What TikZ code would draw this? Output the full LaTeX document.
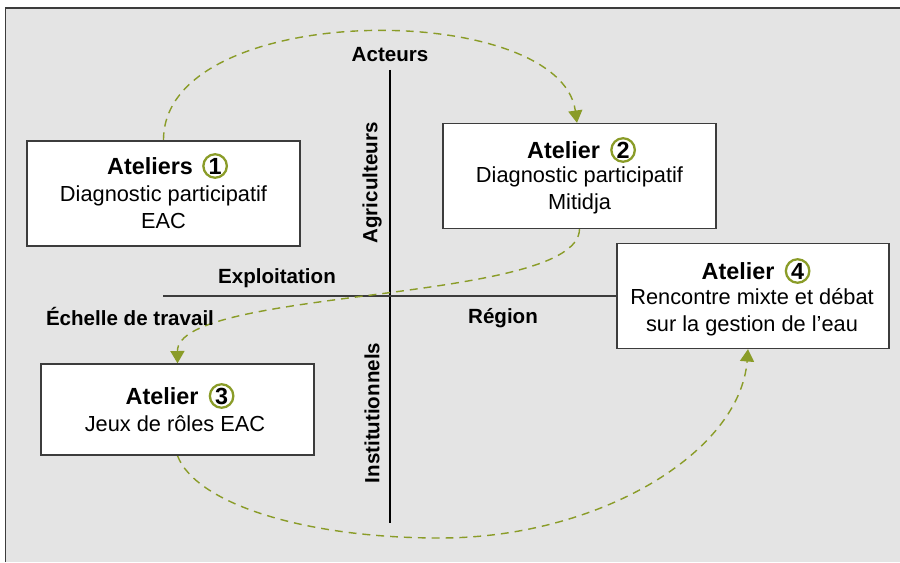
\documentclass[tikz,border=0pt]{standalone}
\usepackage{fontspec}
\setmainfont{Liberation Sans}
\usetikzlibrary{positioning,arrows.meta}
\definecolor{olivegreen}{RGB}{138,156,40}
\definecolor{panelgray}{RGB}{228,228,228}
\definecolor{framegray}{RGB}{60,60,60}
\pgfdeclarelayer{bglayer}
\pgfdeclarelayer{edgelayer}
\pgfdeclarelayer{nodelayer}
\pgfsetlayers{bglayer,edgelayer,nodelayer,main}
\tikzstyle{atelierbox}=[draw=framegray, fill=white, line width=0.8pt, minimum width=5.46cm, minimum height=2.1cm, inner sep=0pt]
\tikzstyle{title}=[font=\fontsize{13.3}{16}\selectfont\bfseries, inner sep=0pt]
\tikzstyle{body}=[font=\fontsize{12.4}{15.3}\selectfont, align=center, inner sep=0pt]
\tikzstyle{numcircle}=[circle, draw=olivegreen, line width=1.3pt, inner sep=0pt, minimum size=0.47cm, font=\fontsize{13.3}{16}\selectfont\bfseries]
\tikzstyle{axis}=[draw=black, line width=0.6pt]
\tikzstyle{axislabel}=[font=\fontsize{11.7}{14}\selectfont\bfseries, inner sep=0pt]
\tikzstyle{greenedge}=[draw=olivegreen, line width=0.8pt, dash pattern=on 4.5pt off 3.4pt, -{Triangle[length=7pt,width=8pt]}]

\begin{document}
\begin{tikzpicture}[x=0.02cm, y=0.02cm]
	\useasboundingbox (0,0) rectangle (900,562);
	\begin{pgfonlayer}{bglayer}
		\fill [panelgray] (5,0) rectangle (900,554);
		\draw [framegray, line width=1.1pt] (5.5,0) -- (5.5,554) -- (900,554);
	\end{pgfonlayer}
	\begin{pgfonlayer}{nodelayer}
		% ateliers
		\node [style=atelierbox] (b1) at (163.5,368.5) {};
		\node [style=title] (t1) at (150,396) {Ateliers};
		\node [style=numcircle, right=0.18cm of t1] (n1) {1};
		\node [style=body] (d1) at (163.5,354.5) {Diagnostic participatif\\EAC};
		\node [style=atelierbox] (b2) at (579.5,386) {};
		\node [style=title] (t2) at (563.5,412) {Atelier};
		\node [style=numcircle, right=0.2cm of t2] (n2) {2};
		\node [style=body] (d2) at (579.5,371.5) {Diagnostic participatif\\Mitidja};
		\node [style=atelierbox, minimum height=1.82cm] (b3) at (177.5,152.5) {};
		\node [style=title] (t3) at (162,166) {Atelier};
		\node [style=numcircle, right=0.2cm of t3] (n3) {3};
		\node [style=body] (d3) at (175,138) {Jeux de rôles EAC};
		\node [style=atelierbox, minimum width=5.44cm] (b4) at (753,266) {};
		\node [style=title] (t4) at (738,291) {Atelier};
		\node [style=numcircle, right=0.2cm of t4] (n4) {4};
		\node [style=body] (d4) at (752,250) {Rencontre mixte et débat\\sur la gestion de l’eau};
		% axes
		\node [style=axislabel] (acteurs) at (390,507) {Acteurs};
		\node [style=axislabel, rotate=90] (agri) at (372,379) {Agriculteurs};
		\node [style=axislabel, rotate=90] (inst) at (372,149) {Institutionnels};
		\node [style=axislabel] (expl) at (277,284) {Exploitation};
		\node [style=axislabel] (echelle) at (130,246) {Échelle de travail};
		\node [style=axislabel] (region) at (503,244) {Région};
		\coordinate (vtop) at (390,492);
		\coordinate (vbot) at (390,39);
		\coordinate (hleft) at (163,266);
		\coordinate (bot) at (440,24);
	\end{pgfonlayer}
	\begin{pgfonlayer}{edgelayer}
		\draw [style=axis] (vtop) to (vbot);
		\draw [style=axis, draw=framegray, line width=0.9pt] (hleft) to (b4.west);
		\draw [style=greenedge] (b1.north) .. controls (163,563) and (560,563) .. ([xshift=-0.05cm]b2.north);
		\draw [style=greenedge] (b2.south) .. controls (578,258) and (177,275) .. (b3.north);
		\draw [style=greenedge] (b3.south) .. controls (195,60) and (300,24) .. (bot)
			.. controls (600,24) and (740,110) .. ([xshift=-0.1cm]b4.south);
	\end{pgfonlayer}
\end{tikzpicture}
\end{document}
